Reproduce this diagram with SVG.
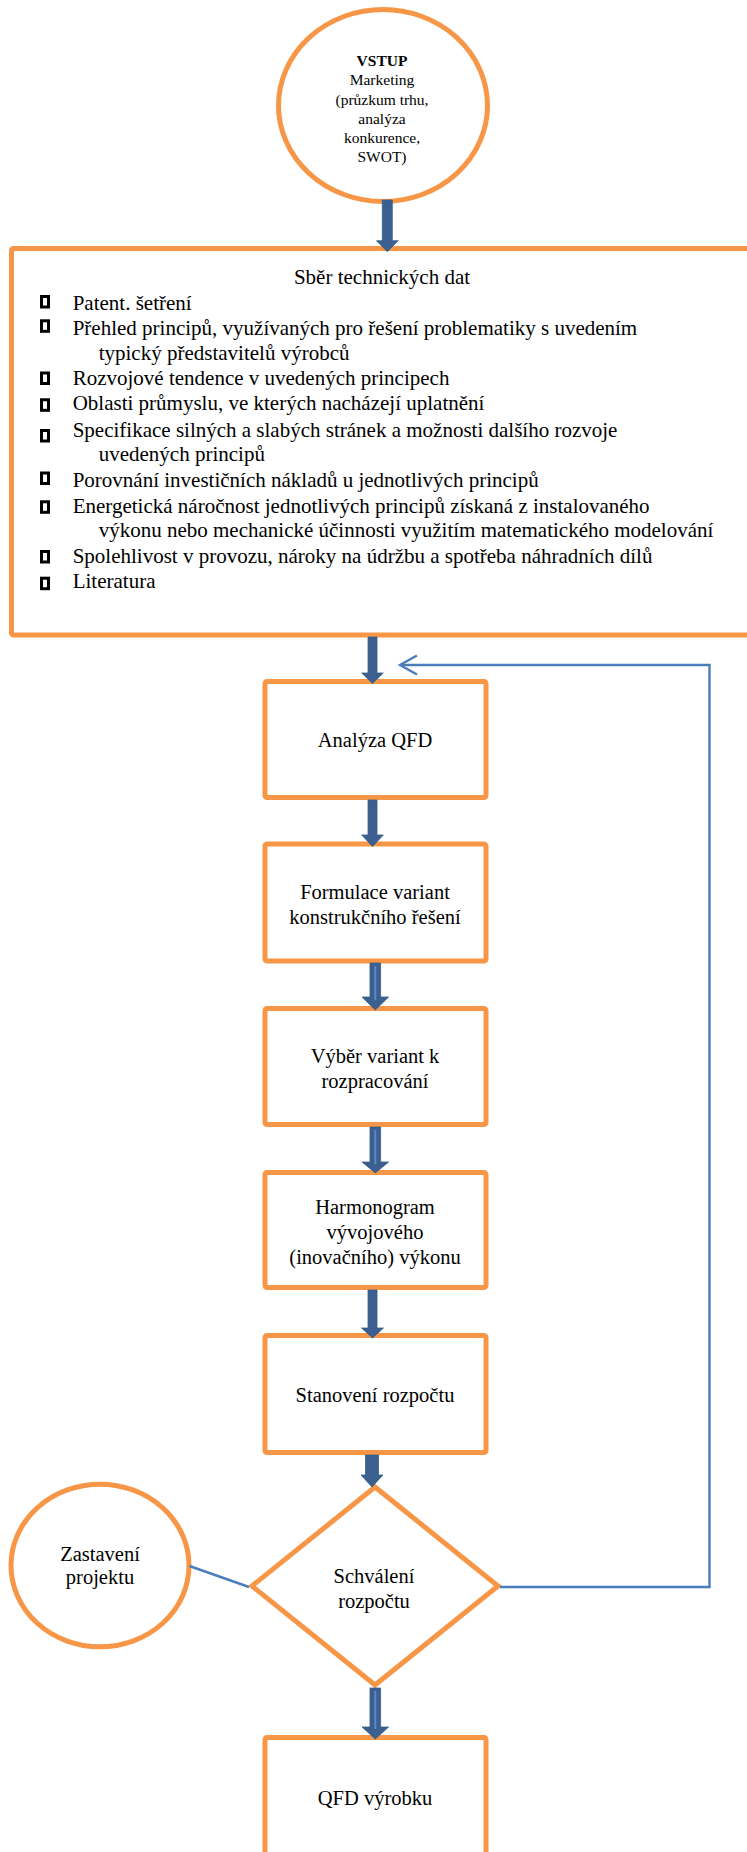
<svg xmlns="http://www.w3.org/2000/svg" width="747" height="1852" viewBox="0 0 747 1852">
  <style>
    .shape { fill: #ffffff; stroke: #F79646; stroke-width: 5; }
    .txt { font-family: "Liberation Serif", "Times New Roman", serif; font-size: 20.5px; fill: #000000; }
    .list { font-size: 21px; }
    .ctr { text-anchor: middle; }
    .small { font-size: 15.5px; }
    .bullet { fill: none; stroke: #000000; stroke-width: 3; }
    .block { fill: #3b5f8e; stroke: #385d8a; stroke-width: 0.8; }
    .shine { stroke: #5a8bc8; stroke-width: 2; fill: none; }
    .link { fill: none; stroke: #4a7ebb; stroke-width: 2.4; }
  </style>

  <rect width="747" height="1852" fill="#ffffff"/>

  <!-- input: marketing -->
  <g id="node-vstup">
    <ellipse class="shape" cx="383" cy="105.5" rx="104.5" ry="96"/>
    <text class="txt small ctr" x="382" y="65.5" font-weight="bold">VSTUP</text>
    <text class="txt small ctr" x="382" y="85">Marketing</text>
    <text class="txt small ctr" x="382" y="104.5">(průzkum trhu,</text>
    <text class="txt small ctr" x="382" y="124">analýza</text>
    <text class="txt small ctr" x="382" y="143">konkurence,</text>
    <text class="txt small ctr" x="382" y="162">SWOT)</text>
  </g>

  <!-- technical data collection -->
  <g id="node-sber">
    <rect class="shape" x="11.5" y="248.5" width="745" height="386.5" rx="2"/>
    <text class="txt list ctr" x="382" y="284">Sběr technických dat</text>
    <rect class="bullet" x="41.5" y="296.5" width="7" height="10.5"/>
    <text class="txt list" x="72.7" y="309.5">Patent. šetření</text>
    <rect class="bullet" x="41.5" y="320.8" width="7" height="10.5"/>
    <text class="txt list" x="72.7" y="335">Přehled principů, využívaných pro řešení problematiky s uvedením</text>
    <text class="txt list" x="98.7" y="360">typický představitelů výrobců</text>
    <rect class="bullet" x="41.5" y="373" width="7" height="10.5"/>
    <text class="txt list" x="72.7" y="385">Rozvojové tendence v uvedených principech</text>
    <rect class="bullet" x="41.5" y="399.8" width="7" height="10.5"/>
    <text class="txt list" x="72.7" y="410">Oblasti průmyslu,  ve kterých nacházejí uplatnění</text>
    <rect class="bullet" x="41.5" y="430.5" width="7" height="10.5"/>
    <text class="txt list" x="72.7" y="436.5">Specifikace silných a slabých stránek a možnosti dalšího rozvoje</text>
    <text class="txt list" x="98.7" y="461">uvedených principů</text>
    <rect class="bullet" x="41.5" y="473" width="7" height="10.5"/>
    <text class="txt list" x="72.7" y="486.5">Porovnání investičních nákladů u jednotlivých principů</text>
    <rect class="bullet" x="41.5" y="501.8" width="7" height="10.5"/>
    <text class="txt list" x="72.7" y="513">Energetická náročnost jednotlivých principů získaná z instalovaného</text>
    <text class="txt list" x="98.7" y="536.5">výkonu nebo mechanické účinnosti využitím matematického modelování</text>
    <rect class="bullet" x="41.5" y="551.5" width="7" height="10.5"/>
    <text class="txt list" x="72.7" y="563">Spolehlivost v provozu, nároky na údržbu a spotřeba náhradních dílů</text>
    <rect class="bullet" x="41.5" y="578.2" width="7" height="10.5"/>
    <text class="txt list" x="72.7" y="588">Literatura</text>
  </g>

  <g id="node-qfd-analyza">
    <rect class="shape" x="265" y="681.5" width="221" height="116" rx="2"/>
    <text class="txt ctr" x="375" y="747">Analýza QFD</text>
  </g>

  <g id="node-formulace">
    <rect class="shape" x="265" y="844" width="221" height="117" rx="2"/>
    <text class="txt ctr" x="375" y="898.5">Formulace variant</text>
    <text class="txt ctr" x="375" y="923.5">konstrukčního řešení</text>
  </g>

  <g id="node-vyber">
    <rect class="shape" x="265" y="1008.5" width="221" height="116" rx="2"/>
    <text class="txt ctr" x="375" y="1063">Výběr variant k</text>
    <text class="txt ctr" x="375" y="1088">rozpracování</text>
  </g>

  <g id="node-harmonogram">
    <rect class="shape" x="265" y="1172.5" width="221" height="115" rx="2"/>
    <text class="txt ctr" x="375" y="1214">Harmonogram</text>
    <text class="txt ctr" x="375" y="1239">vývojového</text>
    <text class="txt ctr" x="375" y="1264">(inovačního) výkonu</text>
  </g>

  <g id="node-rozpocet">
    <rect class="shape" x="265" y="1335.5" width="221" height="117" rx="2"/>
    <text class="txt ctr" x="375" y="1402">Stanovení rozpočtu</text>
  </g>

  <g id="node-schvaleni">
    <polygon class="shape" points="375,1487 498,1586 375,1685 252,1586"/>
    <text class="txt ctr" x="374" y="1583">Schválení</text>
    <text class="txt ctr" x="374" y="1608">rozpočtu</text>
  </g>

  <g id="node-zastaveni">
    <ellipse class="shape" cx="100" cy="1565.5" rx="89" ry="81.3"/>
    <text class="txt ctr" x="100" y="1561">Zastavení</text>
    <text class="txt ctr" x="100" y="1584">projektu</text>
  </g>

  <g id="node-qfd-vyrobku">
    <rect class="shape" x="265" y="1737.5" width="221" height="117" rx="2"/>
    <text class="txt ctr" x="375" y="1805">QFD výrobku</text>
  </g>

  <!-- connectors -->
  <g id="connectors">
    <path class="block" d="M382.3,200 H392.3 V240.7 H398.1 L387.3,251.7 L376.5,240.7 H382.3 Z"/>
    <path class="block" d="M368,637 H377 V673 H383.3 L372.5,683.5 L361.7,673 H368 Z"/>
    <path class="block" d="M368,800 H377 V835 H383.3 L372.5,846.5 L361.7,835 H368 Z"/>
    <path class="block" d="M370,963 H380.6 V997 H388.6 L375.3,1010 L362,997 H370 Z"/>
    <line class="shine" x1="375.3" y1="966" x2="375.3" y2="1000"/>
    <path class="block" d="M370,1127 H380.6 V1162 H388.6 L375.3,1173 L362,1162 H370 Z"/>
    <line class="shine" x1="375.3" y1="1130" x2="375.3" y2="1164"/>
    <path class="block" d="M368,1290 H377 V1328 H383.5 L372.5,1338 L361.5,1328 H368 Z"/>
    <path class="block" d="M365.5,1455 H378.5 V1475 H383 L372,1487 L361,1475 H365.5 Z"/>
    <path class="block" d="M370,1688 H380.6 V1727 H388.6 L375.3,1739 L362,1727 H370 Z"/>
    <line class="shine" x1="375.3" y1="1691" x2="375.3" y2="1729"/>

    <!-- return loop from approval back to QFD analysis -->
    <path class="link" d="M500,1587 H709.5 V665 H401"/>
    <path class="link" d="M417,655.5 L400,665 L417,674.5"/>
    <!-- link to project stop -->
    <line class="link" x1="189.5" y1="1566" x2="249" y2="1587"/>
  </g>
</svg>
